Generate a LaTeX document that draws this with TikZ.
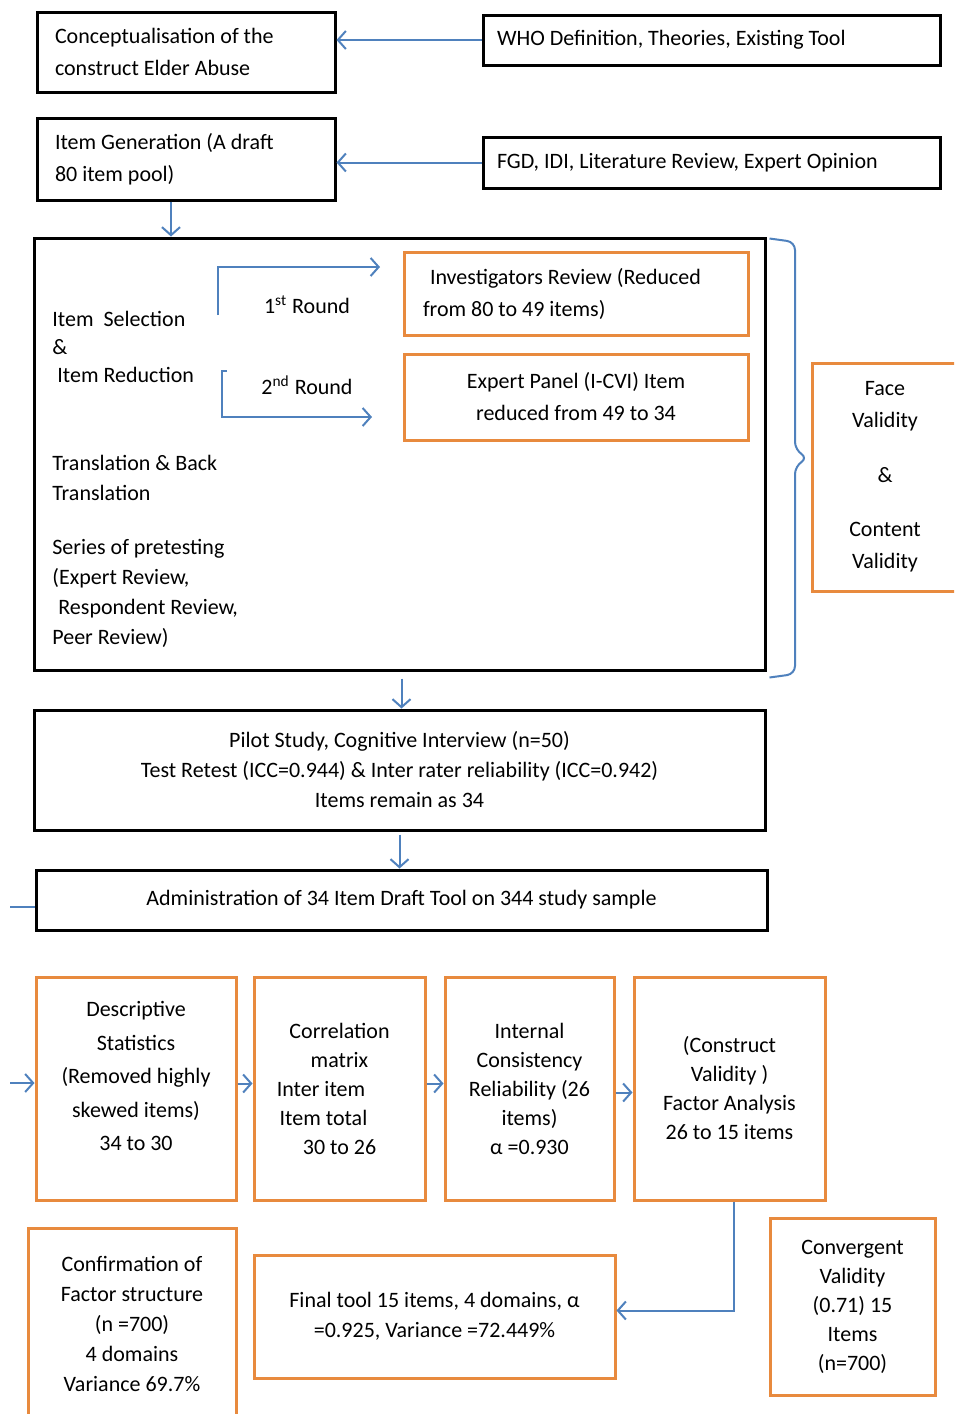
\documentclass[tikz,border=0pt]{standalone}
\usepackage{fontspec}
\setmainfont{Carlito}
\usetikzlibrary{arrows.meta}
\definecolor{arrowblue}{RGB}{79,129,189}
\definecolor{boxorange}{RGB}{232,138,62}
\tikzset{
  blackbox/.style={draw=black, line width=1.5pt, inner sep=0pt},
  orangebox/.style={draw=boxorange, line width=1.5pt, inner sep=0pt},
  link/.style={draw=arrowblue, line width=1pt},
  txt/.style={font=\fontsize{11}{#1}\selectfont},
  txt/.default=15,
}
\begin{document}
\begin{tikzpicture}[x=0.5pt, y=-0.5pt, >={Straight Barb[length=4pt,width=9pt]}]
    \useasboundingbox (0,0) rectangle (954,1414);
    \fill[white] (0,0) rectangle (954,1414);
    \clip (0,0) rectangle (954,1414);
    % Top: conceptualisation and item generation
    \node[blackbox, txt=16, minimum width=149pt, minimum height=40pt, text width=131pt, align=flush left] (concept) at (186,52) {Conceptualisation of the\\construct Elder Abuse};
    \node[blackbox, txt, minimum width=228.5pt, minimum height=25pt, text width=214.5pt, align=flush left] (who) at (711.5,40) {WHO Definition, Theories, Existing Tool};
    \node[blackbox, txt=16, minimum width=149pt, minimum height=41pt, text width=131pt, align=flush left] (itemgen) at (186,159) {Item Generation (A draft\\80 item pool)};
    \node[blackbox, txt, minimum width=228.5pt, minimum height=25.5pt, text width=214.5pt, align=flush left] (fgd) at (711.5,162.5) {FGD, IDI, Literature Review, Expert Opinion};
    \draw[link,->] (who.west) -- (who.west -| concept.east);
    \draw[link,->] (fgd.west) -- (fgd.west -| itemgen.east);

    % Big box: selection, reduction, translation, pretesting
    \node[blackbox, minimum width=365.5pt, minimum height=216pt] (bigbox) at (399.5,454) {};
    \draw[link,->] ([xshift=-7.5pt]itemgen.south) -- ([xshift=-7.5pt]itemgen.south |- bigbox.north);
    \node[txt=14, align=left, anchor=west, inner sep=0pt] (selection) at (52,347) {Item\ \ Selection\\\&\\\hspace*{2.5pt}Item Reduction};
    \node[txt, align=left, anchor=west, inner sep=0pt] (translation) at (52,478) {Translation \& Back\\Translation};
    \node[txt, align=left, anchor=west, inner sep=0pt] (pretest) at (52,593.5) {Series of pretesting\\(Expert Review,\\\hspace*{3pt}Respondent Review,\\Peer Review)};
    \node[orangebox, txt=16, minimum width=172pt, minimum height=41.5pt, text width=153pt, align=flush left] (invest) at (576,293.5) {\hspace*{3.5pt}Investigators Review (Reduced\\from 80 to 49 items)};
    \node[orangebox, txt=16, minimum width=172pt, minimum height=43pt, align=center] (expert) at (576,397) {Expert Panel (I-CVI) Item\\reduced from 49 to 34};
    \node[txt] (round1) at (307,305) {1\textsuperscript{st} Round};
    \node[txt] (round2) at (307,385) {2\textsuperscript{nd} Round};
    \coordinate (r1a) at (218,315);
    \coordinate (r1b) at (380,267);
    \coordinate (r2a) at (227,371);
    \coordinate (r2b) at (372,417);
    \draw[link,->] (r1a) |- (r1b);
    \draw[link,->] (r2a) -- ++(-2.5pt,0) |- (r2b);

    % Face and content validity with brace
    \node[orangebox, txt=16, minimum width=73pt, minimum height=114pt, align=center] (face) at (885,477) {Face\\Validity\\[11.5pt]\&\\[11pt]Content\\Validity};
    \draw[link, rounded corners=4pt] ([xshift=1.5pt,yshift=-1pt]bigbox.north east) -- (795,242) -- (795,450) -- (808,458) -- (795,466) -- (795,674) -- ([xshift=1.5pt,yshift=-3pt]bigbox.south east);

    % Pilot and administration
    \node[blackbox, txt, minimum width=365.5pt, minimum height=60pt, align=center] (pilot) at (399.5,770) {Pilot Study, Cognitive Interview (n=50)\\Test Retest (ICC=0.944) \& Inter rater reliability (ICC=0.942)\\Items remain as 34};
    \draw[link,->] ([xshift=1pt,yshift=-3.5pt]bigbox.south) -- ([xshift=1pt]pilot.north);
    \node[blackbox, txt, minimum width=365.5pt, minimum height=30pt] (admin) at (401.5,900) {Administration of 34 Item Draft Tool on 344 study sample};
    \draw[link,->] ([yshift=-1.5pt]pilot.south) -- (pilot.south |- admin.north);
    \coordinate (lefttop) at (10,907);
    \coordinate (leftbot) at (10,1083);
    \draw[link] (lefttop) -- (lefttop -| admin.west);

    % Analysis row
    \node[orangebox, minimum width=100pt, minimum height=111.5pt] (desc) at (136,1088.5) {};
    \node[txt=16.75, align=center] (descT) at (136,1076) {Descriptive\\Statistics\\(Removed highly\\skewed items)\\34 to 30};
    \node[orangebox, txt=14.5, minimum width=85.5pt, minimum height=111.5pt, align=center] (corr) at (339.5,1088.5) {Correlation\\matrix\\Inter item\rule{18.5pt}{0pt}\\Item total\rule{16pt}{0pt}\\30 to 26};
    \node[orangebox, txt=14.5, minimum width=84.5pt, minimum height=111.5pt, align=center] (intl) at (529.5,1088.5) {Internal\\Consistency\\Reliability (26\\items)\\α =0.930};
    \node[orangebox, txt=14.5, minimum width=95.5pt, minimum height=111.5pt, align=center] (cons) at (729.5,1088.5) {(Construct\\Validity )\\Factor Analysis\\26 to 15 items};
    \draw[link,->] (leftbot) -- (leftbot -| desc.west);
    \draw[link,->] ([yshift=2.5pt]desc.east) -- ([yshift=2.5pt]corr.west);
    \draw[link,->] ([yshift=2.5pt]corr.east) -- ([yshift=2.5pt]intl.west);
    \draw[link,->] ([yshift=-2pt]intl.east) -- ([yshift=-2pt]cons.west);

    % Final results
    \node[orangebox, txt, minimum width=104pt, minimum height=96pt, align=center] (confirm) at (132,1324) {Confirmation of\\Factor structure\\(n =700)\\4 domains\\Variance 69.7\%};
    \node[orangebox, txt, minimum width=180.5pt, minimum height=61.5pt, align=center] (final) at (434.5,1316.5) {Final tool 15 items, 4 domains, α\\=0.925, Variance =72.449\%};
    \node[orangebox, txt=14.5, minimum width=82.5pt, minimum height=88.5pt, align=center] (conv) at (852.5,1306.5) {Convergent\\Validity\\(0.71) 15\\Items\\(n=700)};
    \draw[link,->] ([xshift=2pt]cons.south) |- ([yshift=3pt]final.east);
\end{tikzpicture}
\end{document}
